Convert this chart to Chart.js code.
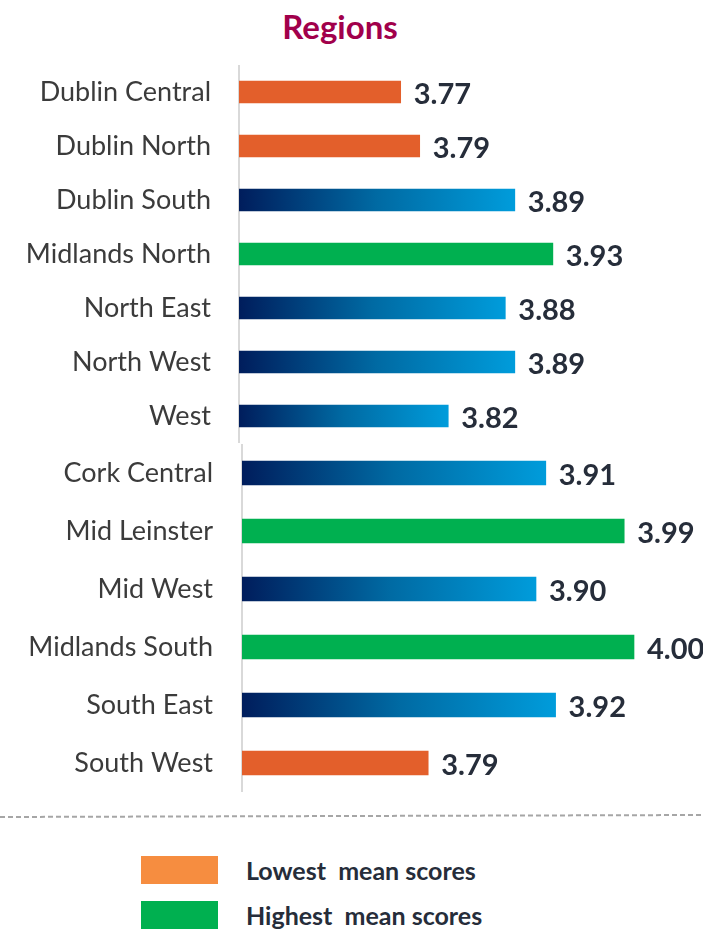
<!DOCTYPE html>
<html>
<head>
<meta charset="utf-8">
<script src="https://cdn.jsdelivr.net/npm/chart.js@4/dist/chart.umd.min.js"></script>
<style>
  html, body { margin: 0; padding: 0; background: #ffffff; }
  body { width: 703px; height: 937px; position: relative; overflow: hidden; font-family: Lato, "Noto Sans", sans-serif; }
  #title { position: absolute; left: 240px; width: 200px; top: 6px; text-align: center;
           font-weight: 700; font-size: 33px; line-height: 40px; color: #a1004b; }
  canvas { position: absolute; left: 0; }
  #chartTop { top: 65px; }
  #chartBottom { top: 444px; }
  #divider { position: absolute; left: 0; top: 810px; }
  .key { position: absolute; left: 141px; width: 77px; height: 28px; }
  .keyText { position: absolute; left: 246px; font-weight: 700; font-size: 25px; line-height: 28px; color: #262d3a; white-space: pre; }
</style>
</head>
<body>
<div id="title">Regions</div>
<canvas id="chartTop" width="703" height="378"></canvas>
<canvas id="chartBottom" width="703" height="348"></canvas>
<svg id="divider" width="703" height="12">
  <line x1="0" y1="7" x2="703" y2="5" stroke="#a6a6a6" stroke-width="2" stroke-dasharray="5 3"></line>
</svg>
<div class="key" style="top:856px; background:#f68d40;"></div>
<div class="keyText" style="top:856px;">Lowest  mean scores</div>
<div class="key" style="top:901px; background:#00b050;"></div>
<div class="keyText" style="top:901px;">Highest  mean scores</div>

<script>
// Mean scores by region, in two groups
const topRegions = ['Dublin Central', 'Dublin North', 'Dublin South', 'Midlands North', 'North East', 'North West', 'West'];
const topScores  = [3.77, 3.79, 3.89, 3.93, 3.88, 3.89, 3.82];
const topBands   = ['low', 'low', 'mid', 'high', 'mid', 'mid', 'mid'];

const bottomRegions = ['Cork Central', 'Mid Leinster', 'Mid West', 'Midlands South', 'South East', 'South West'];
const bottomScores  = [3.91, 3.99, 3.90, 4.00, 3.92, 3.79];
const bottomBands   = ['mid', 'high', 'mid', 'high', 'mid', 'low'];

const axisMin = 3.6;
const axisMax = 4.05;

const LOW_COLOR = '#e35f2b';
const HIGH_COLOR = '#00b050';

// Value label drawn just past the end of each bar
const valueLabels = {
  id: 'valueLabels',
  afterDatasetsDraw(chart) {
    const ctx = chart.ctx;
    const meta = chart.getDatasetMeta(0);
    const data = chart.data.datasets[0].data;
    ctx.save();
    ctx.font = '700 29px Lato, "Noto Sans", sans-serif';
    ctx.fillStyle = '#262d3a';
    ctx.textAlign = 'left';
    ctx.textBaseline = 'middle';
    meta.data.forEach((bar, i) => {
      ctx.fillText(data[i].toFixed(2), bar.x + 13, bar.y + 3);
    });
    ctx.restore();
  }
};

function makeChart(id, labels, values, bands, axisLeft, labelRight, padRight, thickness) {
  const barColor = (c) => {
    const band = bands[c.dataIndex];
    if (band === 'low') return LOW_COLOR;
    if (band === 'high') return HIGH_COLOR;
    const chart = c.chart;
    const xs = chart.scales.x;
    if (!chart.chartArea || !xs) return '#0070a8';
    const x0 = xs.getPixelForValue(xs.min);
    const x1 = xs.getPixelForValue(values[c.dataIndex]);
    const g = chart.ctx.createLinearGradient(x0, 0, x1, 0);
    g.addColorStop(0, '#001d5c');
    g.addColorStop(0.5, '#006aa3');
    g.addColorStop(1, '#009cdb');
    return g;
  };

  return new Chart(document.getElementById(id), {
    type: 'bar',
    data: {
      labels: labels,
      datasets: [{
        data: values,
        backgroundColor: barColor,
        borderWidth: 0,
        barThickness: thickness
      }]
    },
    options: {
      indexAxis: 'y',
      responsive: false,
      animation: false,
      devicePixelRatio: 1,
      layout: { padding: { left: 0, right: padRight, top: 0, bottom: 0 } },
      plugins: { legend: { display: false }, tooltip: { enabled: false }, title: { display: false } },
      scales: {
        x: { display: false, min: axisMin, max: axisMax },
        y: {
          grid: { display: false, drawTicks: false },
          border: { display: true, color: '#d9d9d9', width: 2 },
          ticks: {
            padding: axisLeft - labelRight,
            color: '#3b3b3b',
            font: { family: 'Lato, "Noto Sans", sans-serif', size: 27, weight: '400' }
          },
          afterFit(scale) {
            scale.width = axisLeft;
            scale.paddingTop = 0;
            scale.paddingBottom = 0;
          }
        }
      }
    },
    plugins: [valueLabels]
  });
}

makeChart('chartTop', topRegions, topScores, topBands, 239, 211, 36, 22);
makeChart('chartBottom', bottomRegions, bottomScores, bottomBands, 242, 213, 20, 24);
</script>
</body>
</html>
